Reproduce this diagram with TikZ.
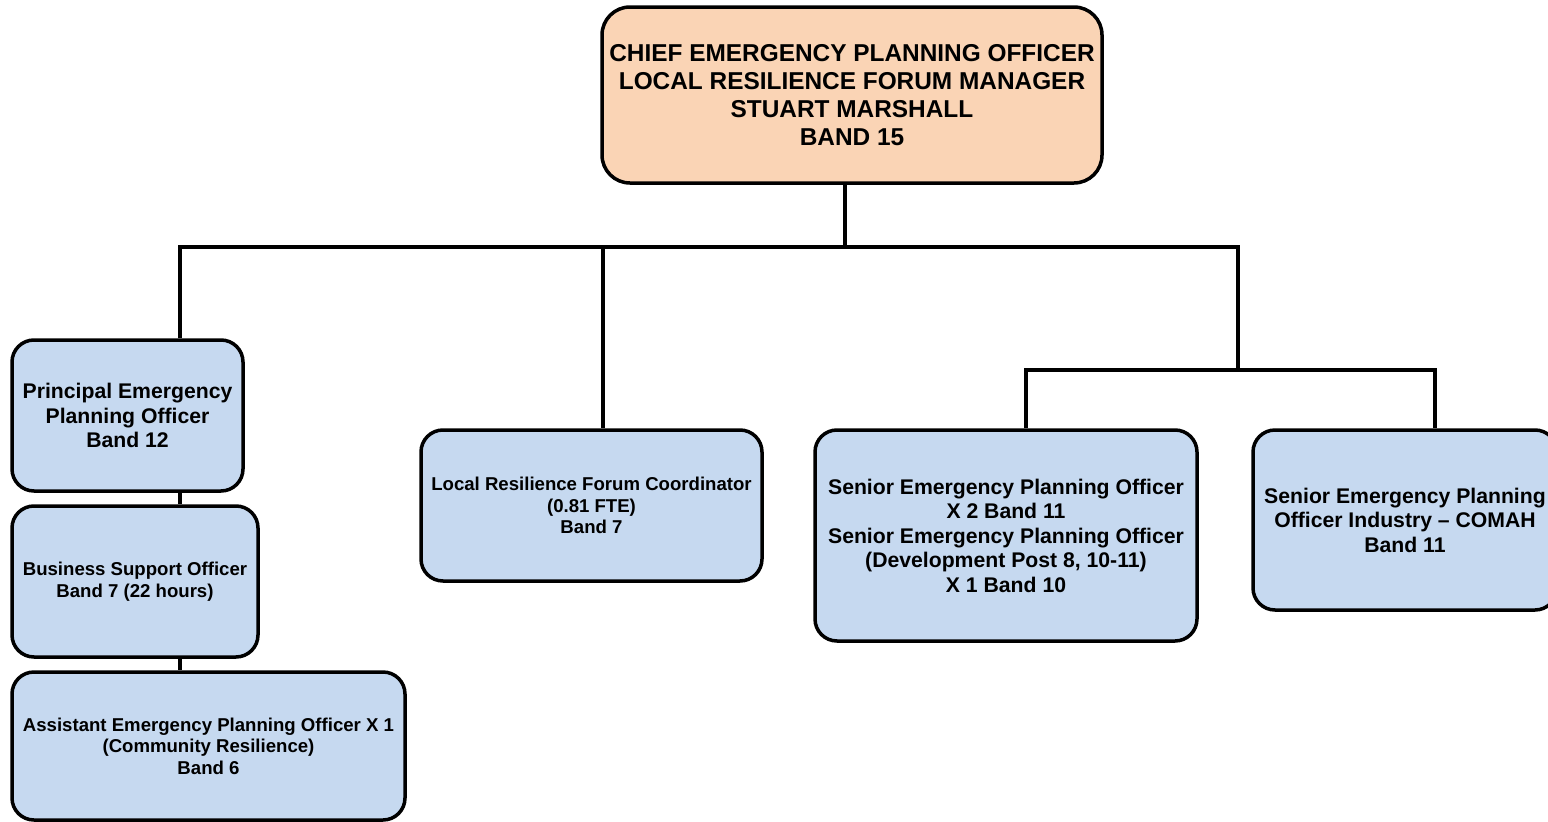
\documentclass[tikz,border=0pt]{standalone}
\usepackage{fontspec}
\setmainfont{Liberation Sans}
\definecolor{peach}{HTML}{FAD4B5}
\definecolor{paleblue}{HTML}{C6D9F0}
\tikzset{
  postbox/.style={draw, line width=3.5pt, rounded corners=22pt, fill=paleblue, align=center, inner sep=0pt},
  bigtext/.style={font=\fontsize{21.2}{24.5}\selectfont\bfseries},
  smalltext/.style={font=\fontsize{18.6}{21.5}\selectfont\bfseries},
  link/.style={line width=3.5pt}
}
\begin{document}
\begin{tikzpicture}[x=1pt,y=-1pt]
      \useasboundingbox (0,0) rectangle (1548,822);
      % routine for boxes
      \node[postbox, fill=peach, rounded corners=28pt, minimum width=500pt, minimum height=176pt, font=\fontsize{24.4}{28}\selectfont\bfseries] (chief) at (852,95) {CHIEF EMERGENCY PLANNING OFFICER\\LOCAL RESILIENCE FORUM MANAGER\\STUART MARSHALL\\BAND 15};
      \node[postbox, bigtext, minimum width=231pt, minimum height=151pt] (principal) at (127.5,415.5) {Principal Emergency\\Planning Officer\\Band 12};
      \node[postbox, smalltext, minimum width=246pt, minimum height=151pt] (business) at (135,581.5) {Business Support Officer\\Band 7 (22 hours)};
      \node[postbox, smalltext, minimum width=393pt, minimum height=148pt] (assistant) at (208.5,746) {Assistant Emergency Planning Officer X 1\\(Community Resilience)\\Band 6};
      \node[postbox, smalltext, minimum width=341pt, minimum height=151pt] (lrf) at (591.5,505.5) {Local Resilience Forum Coordinator\\(0.81 FTE)\\Band 7};
      \node[postbox, bigtext, minimum width=382pt, minimum height=211pt] (senior) at (1006,535.5) {Senior Emergency Planning Officer\\X 2 Band 11\\Senior Emergency Planning Officer\\(Development Post 8, 10-11)\\X 1 Band 10};
      \node[postbox, bigtext, minimum width=304pt, minimum height=180pt] (comah) at (1405,520) {Senior Emergency Planning\\Officer Industry -- COMAH\\Band 11};
      % routine for the links
      \coordinate (busL) at (180,247);
      \coordinate (busM) at (603,247);
      \coordinate (busT) at (845,247);
      \coordinate (busR) at (1238,247);
      \coordinate (subL) at (1026,370);
      \coordinate (subR) at (1435,370);
      \draw[link] (busT |- chief.south) -- (busT);
      \draw[link] (principal.north -| busL) |- (busR) -- (busR |- subL);
      \draw[link] (busM) -- (busM |- lrf.north);
      \draw[link] (senior.north -| subL) |- (subR) -- (subR |- comah.north);
      \draw[link] (principal.south -| busL) -- (business.north -| busL);
      \draw[link] (business.south -| busL) -- (assistant.north -| busL);
\end{tikzpicture}
\end{document}
